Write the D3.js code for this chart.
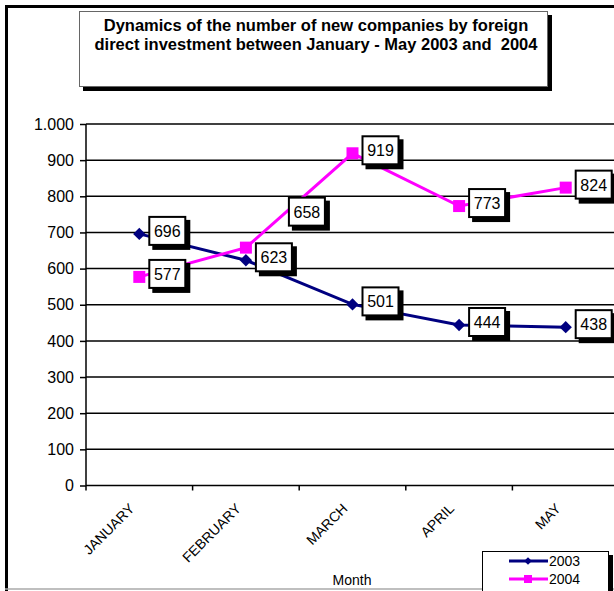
<!DOCTYPE html>
<html>
<head>
<meta charset="utf-8">
<script src="https://cdn.jsdelivr.net/npm/d3@7"></script>
<style>
    body { margin: 0; background: #fff; }
    svg { display: block; font-family: "Liberation Sans", Arial, sans-serif; }
</style>
</head>
<body>
<div class="chart"></div>
<script>
// data
let months = ["JANUARY", "FEBRUARY", "MARCH", "APRIL", "MAY"]
let values2003 = [696, 623, 501, 444, 438]
let values2004 = [577, 658, 919, 773, 824]
let yTicks = [0, 100, 200, 300, 400, 500, 600, 700, 800, 900, 1000]
let yTickLabels = ["0", "100", "200", "300", "400", "500", "600", "700", "800", "900", "1.000"]

let width = 614, height = 591
let svg = d3.select(".chart")
    .append("svg")
    .attr("width", width)
    .attr("height", height)

//外框
svg.append("path")
    .attr("d", `M6.5,${height} V6.5 H${width}`)
    .attr("fill", "none")
    .attr("stroke", "#000")
    .attr("stroke-width", 3)
svg.append("line")
    .attr("x1", 5).attr("x2", width)
    .attr("y1", 589).attr("y2", 589)
    .attr("stroke", "#aaa")
    .attr("stroke-width", 1.5)

//标题
svg.append("rect")
    .attr("x", 83).attr("y", 15)
    .attr("width", 469).attr("height", 76)
    .attr("fill", "#000")
svg.append("rect")
    .attr("x", 79.5).attr("y", 11.5)
    .attr("width", 468).attr("height", 75)
    .attr("fill", "#fff")
    .attr("stroke", "#666")
    .attr("stroke-width", 1)
let title = ["Dynamics of the number of new companies by foreign",
    "direct investment between January - May 2003 and  2004"]
svg.selectAll(".title")
    .data(title)
    .enter()
    .append("text")
    .attr("class", "title")
    .attr("x", 316)
    .attr("y", (d, i) => 31 + i * 18.5)
    .attr("text-anchor", "middle")
    .attr("font-size", 16.5)
    .attr("font-weight", "bold")
    .style("white-space", "pre")
    .text(d => d)

//比例尺
let x = d3.scaleBand().domain(months).range([86, 619])
let y = d3.scaleLinear().domain([0, 1000]).range([485.5, 124])
let cx = d => x(d) + x.bandwidth() / 2

//网格线
svg.selectAll(".grid")
    .data(yTicks.filter(d => d > 0))
    .enter()
    .append("line")
    .attr("x1", 86).attr("x2", width)
    .attr("y1", d => y(d)).attr("y2", d => y(d))
    .attr("stroke", "#000")
    .attr("stroke-width", 1.5)

//坐标轴
let yAxis = svg.append("g")
    .attr("transform", "translate(86,0)")
    .call(d3.axisLeft(y).tickValues(yTicks).tickSize(6).tickPadding(6)
        .tickFormat((d, i) => yTickLabels[i]))
yAxis.select(".domain").attr("stroke-width", 1.5).attr("d", `M0,${y(0)} V${y(1000)}`)
yAxis.selectAll(".tick line").attr("stroke-width", 1.5)
yAxis.selectAll("text").attr("font-size", 16).attr("fill", "#000")
    .attr("font-family", "Liberation Sans, Arial, sans-serif")

let xAxis = svg.append("g")
    .attr("transform", `translate(0,${y(0)})`)
    .call(d3.axisBottom(x).tickSize(0).tickFormat(""))
xAxis.select(".domain").attr("stroke-width", 1.5).attr("d", `M86,0 H${width}`)
svg.selectAll(".xtick")
    .data(months)
    .enter()
    .append("line")
    .attr("x1", d => x(d)).attr("x2", d => x(d))
    .attr("y1", y(0)).attr("y2", y(0) + 5)
    .attr("stroke", "#000")
    .attr("stroke-width", 1.5)
svg.selectAll(".xlabel")
    .data(months)
    .enter()
    .append("text")
    .attr("font-size", 14)
    .attr("text-anchor", "end")
    .attr("transform", d => `translate(${cx(d) - 4},${y(0) + 24}) rotate(-45)`)
    .text(d => d)
svg.append("text")
    .attr("x", 352).attr("y", 585)
    .attr("text-anchor", "middle")
    .attr("font-size", 14)
    .text("Month")

//折线
let diamond = d3.symbol().type(d3.symbolSquare).size(76)
let square = d3.symbol().type(d3.symbolSquare).size(144)
let series = [
    { name: "2003", values: values2003, color: "#000080", marker: diamond, rot: 45 },
    { name: "2004", values: values2004, color: "#FF00FF", marker: square, rot: 0 }
]
let line = d3.line().x((d, i) => cx(months[i])).y(d => y(d))
series.forEach(s => {
    svg.append("path")
        .attr("d", line(s.values))
        .attr("fill", "none")
        .attr("stroke", s.color)
        .attr("stroke-width", 3)
    svg.selectAll(null)
        .data(s.values)
        .enter()
        .append("path")
        .attr("d", s.marker)
        .attr("fill", s.color)
        .attr("transform", (d, i) => `translate(${cx(months[i])},${y(d)}) rotate(${s.rot})`)
})

//数据标签 (658 被手动移开)
let labelShift = { "2004-1": [33, -33] }
let boxW = 38, boxH = 30
series.forEach(s => {
    s.values.forEach((v, i) => {
        let sh = labelShift[`${s.name}-${i}`] || [0, 0]
        let bx = cx(months[i]) + 9 + sh[0]
        let by = y(v) - 18 + sh[1]
        let g = svg.append("g")
        g.append("rect")
            .attr("x", bx + 4).attr("y", by + 4)
            .attr("width", boxW).attr("height", boxH)
            .attr("fill", "#000")
        g.append("rect")
            .attr("x", bx + 1).attr("y", by + 1)
            .attr("width", boxW - 2).attr("height", boxH - 2)
            .attr("fill", "#fff")
            .attr("stroke", "#000")
            .attr("stroke-width", 2)
        g.append("text")
            .attr("x", bx + boxW / 2)
            .attr("y", by + boxH / 2 + 6)
            .attr("text-anchor", "middle")
            .attr("font-size", 16)
            .text(v)
    })
})

//图例
svg.append("rect")
    .attr("x", 486).attr("y", 555)
    .attr("width", 127).attr("height", 40)
    .attr("fill", "#000")
svg.append("rect")
    .attr("x", 482.5).attr("y", 551.5)
    .attr("width", 126).attr("height", 40)
    .attr("fill", "#fff")
    .attr("stroke", "#000")
    .attr("stroke-width", 1)
series.forEach((s, i) => {
    let ly = 561 + i * 18
    svg.append("line")
        .attr("x1", 509).attr("x2", 548)
        .attr("y1", ly).attr("y2", ly)
        .attr("stroke", s.color)
        .attr("stroke-width", 3)
    svg.append("path")
        .attr("d", d3.symbol().type(d3.symbolSquare).size(i == 0 ? 30 : 64))
        .attr("fill", s.color)
        .attr("transform", `translate(528,${ly}) rotate(${s.rot})`)
    svg.append("text")
        .attr("x", 549).attr("y", ly + 5)
        .attr("font-size", 14)
        .text(s.name)
})
</script>
</body>
</html>
